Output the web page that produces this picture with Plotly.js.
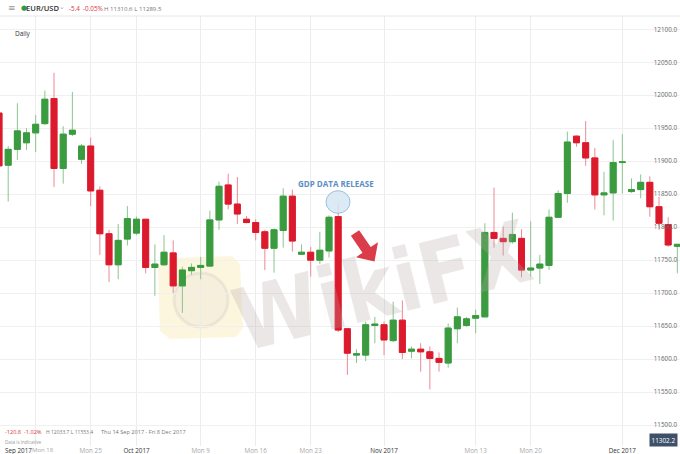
<!DOCTYPE html>
<html>
<head>
<meta charset="utf-8">
<script src="https://cdn.plot.ly/plotly-3.0.1.min.js"></script>
<style>
html,body{margin:0;padding:0;background:#fff;}
#chart{width:680px;height:454px;}
</style>
</head>
<body>
<div id="chart"></div>
<script>
var dates = [
 "2017-09-13","2017-09-14","2017-09-15","2017-09-17","2017-09-18","2017-09-19","2017-09-20","2017-09-21","2017-09-22",
 "2017-09-24","2017-09-25","2017-09-26","2017-09-27","2017-09-28","2017-09-29",
 "2017-10-01","2017-10-02","2017-10-03","2017-10-04","2017-10-05","2017-10-06",
 "2017-10-08","2017-10-09","2017-10-10","2017-10-11","2017-10-12","2017-10-13",
 "2017-10-15","2017-10-16","2017-10-17","2017-10-18","2017-10-19","2017-10-20",
 "2017-10-22","2017-10-23","2017-10-24","2017-10-25","2017-10-26","2017-10-27",
 "2017-10-29","2017-10-30","2017-10-31","2017-11-01","2017-11-02","2017-11-03",
 "2017-11-05","2017-11-06","2017-11-07","2017-11-08","2017-11-09","2017-11-10",
 "2017-11-12","2017-11-13","2017-11-14","2017-11-15","2017-11-16","2017-11-17",
 "2017-11-19","2017-11-20","2017-11-21","2017-11-22","2017-11-23","2017-11-24",
 "2017-11-26","2017-11-27","2017-11-28","2017-11-29","2017-11-30","2017-12-01",
 "2017-12-03","2017-12-04","2017-12-05","2017-12-06","2017-12-07","2017-12-08"
];
var openP = [
 11973,11894,11918,11928,11943,11957,11995,11889,11941,
 11903,11923,11856,11790,11743,11782,
 11791,11812,11739,11743,11761,11711,
 11734,11739,11741,11811,11864,11835,
 11812,11807,11793,11768,11795,11847,
 11759,11762,11750,11764,11816,11646,
 11606,11606,11651,11652,11628,11659,
 11612,11615,11611,11601,11594,11646,
 11651,11662,11664,11792,11783,11778,
 11783,11735,11738,11742,11815,11851,
 11938,11928,11905,11849,11852,11898,
 11854,11857,11868,11831,11804,11771
];
var highP = [
 11980,11923,11988,11950,11970,12007,12034,11953,12005,
 11926,11936,11862,11796,11805,11832,
 11816,11812,11774,11788,11780,11740,
 11745,11755,11825,11869,11881,11876,
 11817,11812,11796,11798,11859,11857,
 11774,11770,11793,11818,11836,11646,
 11615,11657,11664,11657,11687,11689,
 11619,11624,11619,11610,11654,11678,
 11664,11675,11806,11860,11801,11822,
 11797,11809,11758,11827,11856,11945,
 11939,11961,11920,11884,11932,11941,
 11874,11880,11877,11846,11815,11774
];
var lowP = [
 11885,11839,11902,11917,11914,11955,11861,11866,11938,
 11896,11832,11758,11717,11721,11772,
 11788,11730,11696,11742,11700,11670,
 11728,11721,11741,11796,11827,11805,
 11806,11780,11735,11731,11769,11763,
 11759,11725,11744,11754,11641,11576,
 11594,11597,11624,11606,11626,11600,
 11601,11581,11554,11581,11587,11624,
 11649,11639,11664,11769,11757,11775,
 11724,11725,11714,11735,11814,11837,
 11922,11893,11827,11818,11810,11851,
 11852,11844,11816,11796,11770,11730
];
var closeP = [
 11893,11918,11946,11943,11956,11994,11889,11941,11947,
 11923,11855,11790,11743,11780,11813,
 11812,11739,11744,11762,11711,11735,
 11739,11742,11811,11862,11835,11820,
 11807,11792,11768,11796,11847,11779,
 11762,11750,11765,11815,11644,11609,
 11608,11652,11653,11629,11659,11610,
 11615,11611,11601,11595,11647,11664,
 11661,11666,11792,11783,11778,11789,
 11735,11738,11744,11815,11851,11929,
 11928,11905,11849,11852,11898,11899,
 11857,11868,11831,11806,11773,11774
];
var tickDates = ["2017-09-18","2017-09-25","2017-10-01","2017-10-09","2017-10-16","2017-10-23","2017-11-01","2017-11-13","2017-11-20","2017-12-01"];
var tickLabels = ["Mon 18","Mon 25","Oct 2017","Mon 9","Mon 16","Mon 23","Nov 2017","Mon 13","Mon 20","Dec 2017"];
var monthTicks = ["Oct 2017","Nov 2017","Dec 2017"];
var firstTickLabel = "Mon 18";
var firstMonthLabel = "Sep 2017";

var bodyHigh = openP.map(function(o,i){return Math.max(o, closeP[i]);});
var bodyLow = openP.map(function(o,i){return Math.min(o, closeP[i]);});

var tickText = tickLabels.map(function(t){
  if (t === firstTickLabel) return '';
  return monthTicks.indexOf(t) >= 0 ? '<span style="color:#333">' + t + '</span>' : t;
});

var W = 680, T = 16, PH = 430;
function px(x){ return x / W; }
function py(y){ return 1 - (y - T) / PH; }

var wick = {
  type:'candlestick', x:dates, open:openP, high:highP, low:lowP, close:closeP,
  increasing:{line:{color:'#8cc48f', width:1}, fillcolor:'#8cc48f'},
  decreasing:{line:{color:'#ea8a93', width:1}, fillcolor:'#ea8a93'},
  whiskerwidth:0, showlegend:false, hoverinfo:'skip'
};
var body = {
  type:'candlestick', x:dates, open:openP, high:bodyHigh, low:bodyLow, close:closeP,
  increasing:{line:{color:'#3a9b3f', width:1}, fillcolor:'#3a9b3f'},
  decreasing:{line:{color:'#dc1a2d', width:1}, fillcolor:'#dc1a2d'},
  whiskerwidth:0, showlegend:false, hoverinfo:'skip'
};

var arrowPts = [[359.1,230.2],[370.7,247.1],[378.0,242.2],[374.5,261.5],[356.0,257.3],[362.5,252.7],[350.9,235.8]];
var arrowPath = 'M ' + arrowPts.map(function(p){return px(p[0]) + ',' + py(p[1]);}).join(' L ') + ' Z';
var logoPts = [[170,258],[232,256],[240,264],[243,328],[236,337],[170,339],[160,331],[158,268]];
var logoPath = 'M ' + logoPts.map(function(p){return px(p[0]) + ',' + py(p[1]);}).join(' L ') + ' Z';

var greyTxt = '#8a8a8a';
function ann(text, x, y, opts){
  var a = {text:text, xref:'paper', yref:'paper', x:px(x), y:py(y), xanchor:'left', yanchor:'middle',
           showarrow:false, font:{family:'Open Sans, sans-serif', size:6.5, color:greyTxt}};
  for (var k in opts){ a[k] = opts[k]; }
  return a;
}

var annotations = [
  ann('≡', 6, 8, {font:{family:'DejaVu Sans', size:9, color:'#999'}}),
  ann('●', 18.5, 8.3, {font:{family:'DejaVu Sans', size:7, color:'#2e9a3e'}}),
  ann('EUR/USD', 24, 8.3, {font:{family:'Open Sans, sans-serif', size:7.6, color:'#333', weight:600}}),
  ann('⌄', 57, 6.5, {font:{family:'DejaVu Sans', size:7, color:'#aaa'}}),
  ann('-5.4', 67, 8.3, {font:{family:'Open Sans, sans-serif', size:6.3, color:'#d9343f'}}),
  ann('-0.05%', 80.5, 8.3, {font:{family:'Open Sans, sans-serif', size:6.3, color:'#d9343f'}}),
  ann('H 11310.6 L 11289.5', 102, 8.3, {font:{family:'Open Sans, sans-serif', size:6.1, color:'#777'}}),
  ann('Daily', 12.5, 33.3, {font:{family:'Open Sans, sans-serif', size:6.5, color:'#333'}}),
  ann('-120.8  -1.02%', 3, 432.3, {font:{family:'Open Sans, sans-serif', size:5.6, color:'#d9343f'}}),
  ann('H 12033.7 L 11553.4', 43.5, 432.3, {font:{family:'Open Sans, sans-serif', size:5.0, color:'#777'}}),
  ann('Thu 14 Sep 2017 - Fri 8 Dec 2017', 98.5, 432.3, {font:{family:'Open Sans, sans-serif', size:5.6, color:'#777'}}),
  ann('Data is indicative', 3, 442.3, {font:{family:'Open Sans, sans-serif', size:4.6, color:'#999'}}),
  ann(firstMonthLabel, 2.5, 450, {font:{family:'Open Sans, sans-serif', size:6.3, color:'#333'}}),
  ann(firstTickLabel, 29.5, 450, {font:{family:'Open Sans, sans-serif', size:6.0, color:'#a8a8a8'}}),
  ann('11302.2', 663, 439.6, {xanchor:'center', bgcolor:'#3f5169', borderpad:1.5,
      font:{family:'Open Sans, sans-serif', size:6.4, color:'#ffffff'}}),
  ann('GDP DATA RELEASE', 336, 184, {xanchor:'center', font:{family:'Open Sans, sans-serif', size:8, color:'#5b8fc6', weight:700}}),
  ann('WikiFX', 382, 286, {xanchor:'center', textangle:-14,
      font:{family:'DejaVu Sans Condensed, DejaVu Sans', size:86, color:'rgba(180,165,165,0.27)', weight:700}})
];

var shapes = [
  {type:'line', xref:'paper', yref:'paper', x0:0, x1:1, y0:1, y1:1, line:{color:'#e6e6e6', width:1}},
  {type:'path', xref:'paper', yref:'paper', path:logoPath, layer:'below', fillcolor:'rgba(252,240,200,0.6)', line:{width:0}},
  {type:'circle', xref:'paper', yref:'paper', x0:px(174), x1:px(228), y0:py(327), y1:py(273), layer:'below',
   fillcolor:'rgba(215,210,205,0.18)', line:{color:'rgba(205,200,195,0.3)', width:3}},
  {type:'circle', xref:'paper', yref:'paper', x0:px(326), x1:px(350), y0:py(213.3), y1:py(190.7),
   fillcolor:'rgba(214,230,245,0.85)', line:{color:'#9dbfe0', width:1}},
  {type:'path', xref:'paper', yref:'paper', path:arrowPath, fillcolor:'#d8323f', line:{width:0}, opacity:0.95}
];

var layout = {
  width:680, height:454,
  margin:{l:0, r:0, t:16, b:8, pad:0},
  paper_bgcolor:'#ffffff', plot_bgcolor:'#ffffff',
  showlegend:false, hovermode:false,
  boxgap:0.35, boxgroupgap:0, boxmode:'overlay',
  xaxis:{
    type:'category', range:[0.106, 74.29], rangeslider:{visible:false},
    tickmode:'array', tickvals:tickDates, ticktext:tickText,
    showgrid:true, gridcolor:'#ececec', gridwidth:1,
    ticks:'', showline:false, zeroline:false, fixedrange:true,
    tickfont:{family:'Open Sans, sans-serif', size:6.3, color:'#a8a8a8'}
  },
  yaxis:{
    side:'right', range:[11468.2, 12120.2], dtick:50, tick0:11500,
    tickformat:'.1f', ticklabelposition:'inside', ticks:'',
    showgrid:true, gridcolor:'#f0f0f0', gridwidth:1,
    showline:false, zeroline:false, fixedrange:true,
    tickfont:{family:'Open Sans, sans-serif', size:6.3, color:'#666'}
  },
  annotations:annotations,
  shapes:shapes
};

Plotly.newPlot('chart', [wick, body], layout, {displayModeBar:false, staticPlot:true});
</script>
</body>
</html>
